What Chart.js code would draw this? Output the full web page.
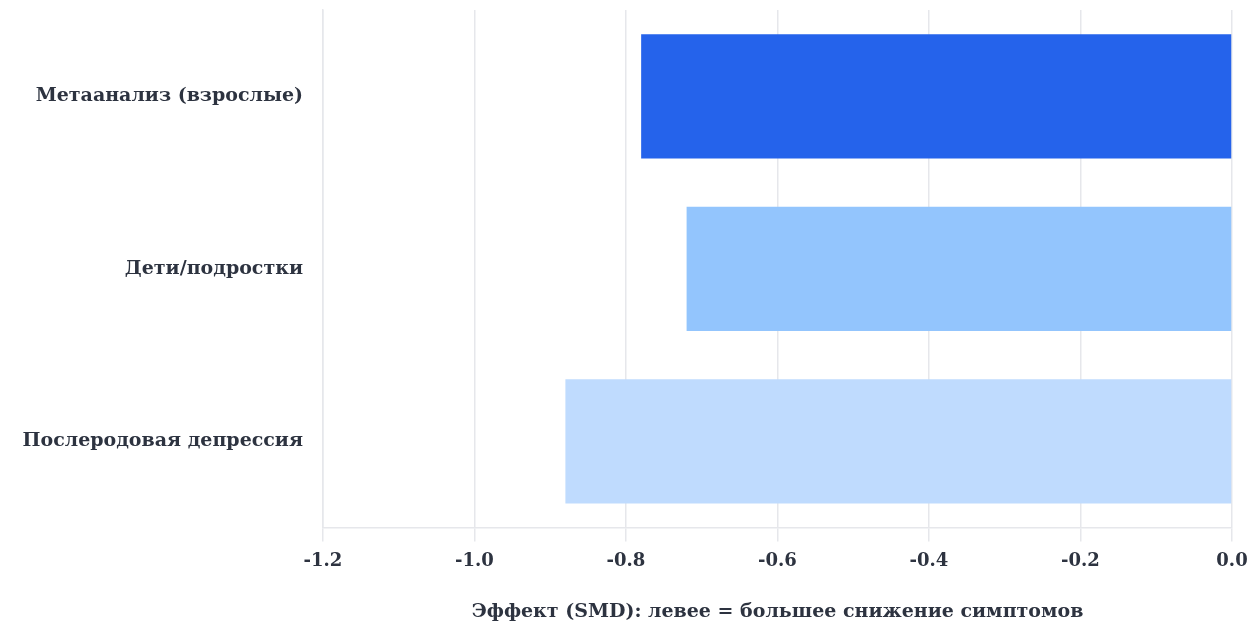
<!DOCTYPE html>
<html><head><meta charset="utf-8">
<script src="https://cdn.jsdelivr.net/npm/chart.js@4"></script>
<style>html,body{margin:0;padding:0;background:#fff}#wrap{width:1250px;height:626px}</style>
</head><body><div id="wrap"><canvas id="c"></canvas></div>
<script>
const categories = ["Метаанализ (взрослые)", "Дети/подростки", "Послеродовая депрессия"];
const values = [-0.78, -0.72, -0.88];
const barColors = ["#2563eb", "#93c5fd", "#bfdbfe"];
const xTicks = [-1.2, -1.0, -0.8, -0.6, -0.4, -0.2, 0.0];
const xTitle = "Эффект (SMD): левее = большее снижение симптомов";

const fontFam = "'DejaVu Serif', 'Liberation Serif', serif";
new Chart(document.getElementById('c'), {
  type: 'bar',
  data: { labels: categories, datasets: [{ data: values, backgroundColor: barColors, borderWidth: 0 }] },
  options: {
    indexAxis: 'y', responsive: true, maintainAspectRatio: false, animation: false,
    layout: { padding: { left: 10, right: 18, top: 10, bottom: 3 } },
    plugins: { legend: { display: false }, tooltip: { enabled: false } },
    scales: {
      x: {
        min: -1.2, max: 0,
        afterBuildTicks: s => { s.ticks = xTicks.map(v => ({ value: v })); },
        afterFit: s => { s.paddingRight = 0; s.paddingLeft = 0; },
        ticks: { callback: v => Number(v).toFixed(1), color: '#2d3340', padding: 9,
                 font: { family: fontFam, size: 18, weight: 'bold' } },
        grid: { color: '#e6e7eb', lineWidth: 1.5, tickLength: 14 },
        border: { color: '#e6e7eb', width: 1.5 },
        title: { display: true, text: xTitle, color: '#2d3340', padding: { top: 19, bottom: 0 },
                 font: { family: fontFam, size: 19, weight: 'bold' } }
      },
      y: {
        afterFit: s => { s.width = 313; s.paddingTop = 0; s.paddingBottom = 0; },
        ticks: { color: '#2d3340', padding: 12, font: { family: fontFam, size: 19, weight: 'bold' } },
        grid: { display: false },
        border: { color: '#e6e7eb', width: 1.5 }
      }
    }
  }
});
</script></body></html>
